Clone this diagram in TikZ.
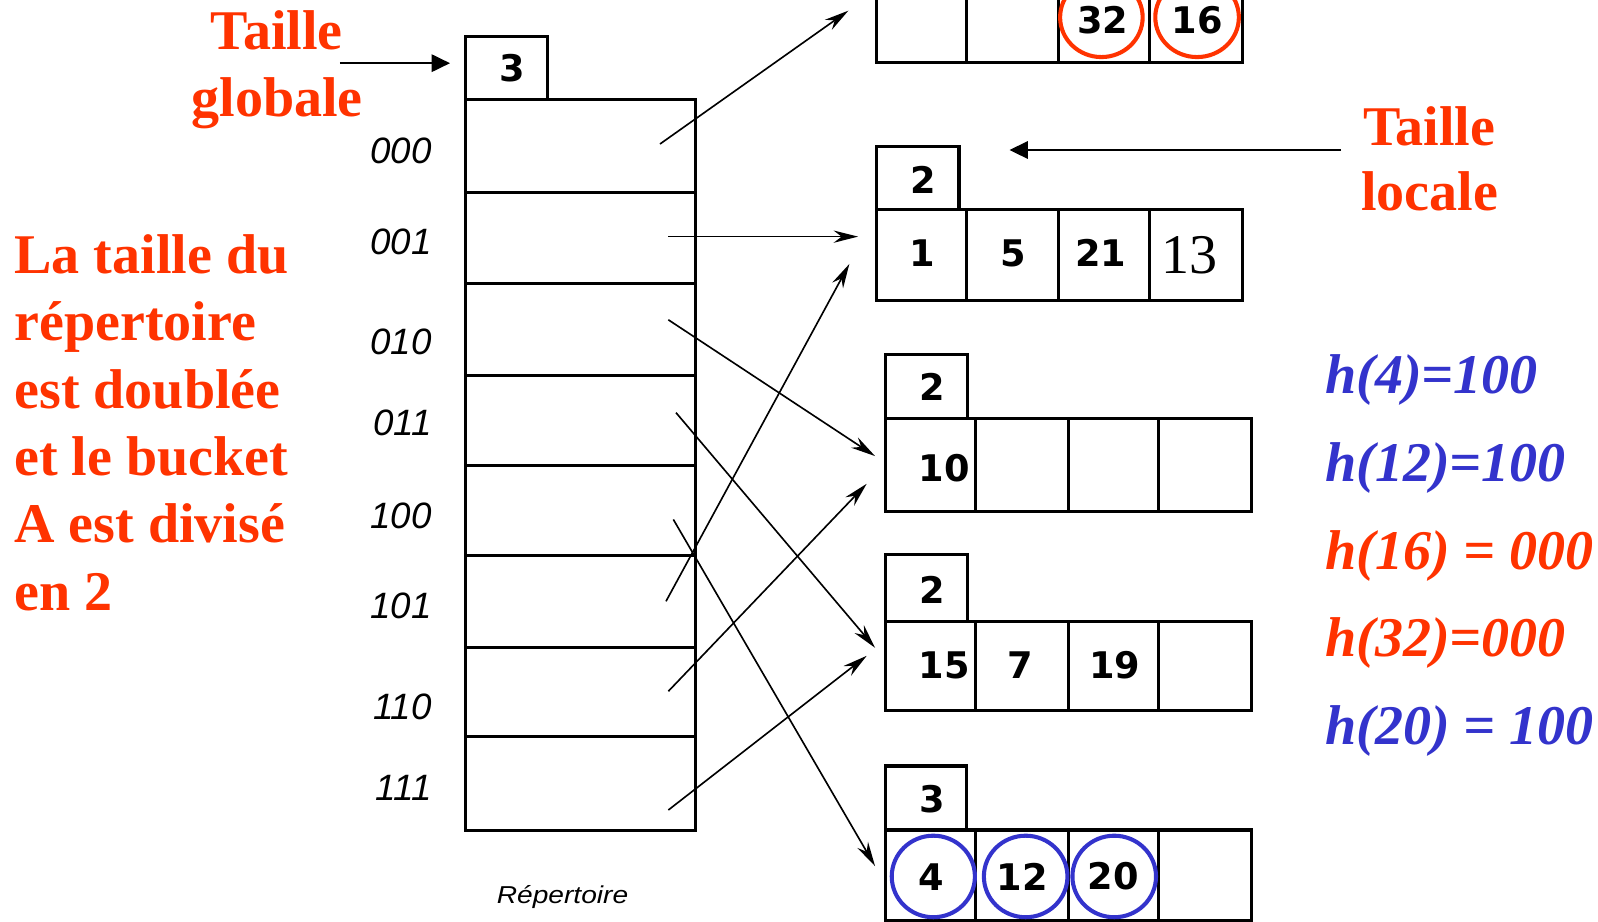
\documentclass[tikz,border=0pt]{standalone}
\usepackage{fontspec}
\setmainfont{Liberation Serif}
\newfontfamily\cellfont{DejaVu Sans}
\newfontfamily\labfont{Liberation Sans}
\usetikzlibrary{fit,arrows.meta,shapes.geometric}
\definecolor{ored}{RGB}{255,51,0}
\definecolor{oblue}{RGB}{51,51,204}
\begin{document}
\begin{tikzpicture}[x=0.5pt,y=-0.5pt,
  box/.style={draw, line width=1.5pt, inner sep=0pt, outer sep=0pt},
  num/.style={font=\cellfont\bfseries\fontsize{18}{20}\selectfont, inner sep=0pt},
  serifnum/.style={font=\fontsize{27.5}{30}\selectfont, inner sep=0pt},
  bin/.style={font=\labfont\itshape\fontsize{18}{20}\selectfont, inner sep=0pt},
  big/.style={font=\bfseries\fontsize{27.5}{33}\selectfont, text=ored, inner sep=0pt},
  hred/.style={font=\bfseries\itshape\fontsize{27.5}{33}\selectfont, text=ored, inner sep=0pt},
  hblue/.style={font=\bfseries\itshape\fontsize{27.5}{33}\selectfont, text=oblue, inner sep=0pt},
  ring/.style={ellipse, draw, line width=2pt, inner sep=0pt},
  ptr/.style={-{Stealth[length=12pt,width=6pt]}, line width=0.8pt},
  lab/.style={-{Triangle[length=9pt,width=8.5pt]}, line width=1pt},
]
\useasboundingbox (0,0) rectangle (1568,904);
\fill[white] (0,0) rectangle (1568,904);

% ---------- directory ----------
\node[box, fit={(457,36)(537,98)}] (g) {};
\node[num] (gt) at (503,67) {3};
\node[box, fit={(457,98)(682,189)}] (r0) {};
\node[box, fit={(457,189)(682,278)}] (r1) {};
\node[box, fit={(457,278)(682,368)}] (r2) {};
\node[box, fit={(457,368)(682,457)}] (r3) {};
\node[box, fit={(457,457)(682,545)}] (r4) {};
\node[box, fit={(457,545)(682,635)}] (r5) {};
\node[box, fit={(457,635)(682,723)}] (r6) {};
\node[box, fit={(457,723)(682,815)}] (r7) {};

\node[bin, anchor=east] (b0) at (424,148) {000};
\node[bin, anchor=east] (b1) at (424,237) {001};
\node[bin, anchor=east] (b2) at (424,335.5) {010};
\node[bin, anchor=east] (b3) at (424,414.5) {011};
\node[bin, anchor=east] (b4) at (424,506.6) {100};
\node[bin, anchor=east] (b5) at (424,594) {101};
\node[bin, anchor=east] (b6) at (424,694) {110};
\node[bin, anchor=east] (b7) at (424,773.5) {111};

\node[inner sep=0pt] (rep) at (552,880) {\scalebox{1.15}[1]{\labfont\itshape\fontsize{12}{13}\selectfont Répertoire}};

% ---------- bucket A (top) ----------
\node[box, fit={(860,-30)(948.6,61.5)}] (a1) {};
\node[box, fit={(948.6,-30)(1039,61.5)}] (a2) {};
\node[box, fit={(1039,-30)(1127.5,61.5)}] (a3) {};
\node[box, fit={(1127.5,-30)(1218.8,61.5)}] (a4) {};
\node[ring, draw=ored, minimum width=40.5pt, minimum height=39pt] (c32) at (1080.7,17) {};
\node[ring, draw=ored, minimum width=41pt, minimum height=39pt] (c16) at (1174.6,17) {};
\node[num] (t32) at (1082,19.6) {32};
\node[num] (t16) at (1174.6,19.6) {16};

% ---------- bucket B ----------
\node[box, fit={(860,144)(941,206)}] (dB) {};
\node[num] (dBt) at (906.4,176.3) {2};
\node[box, fit={(860,206)(948.6,294.4)}] (bb1) {};
\node[box, fit={(948.6,206)(1039,294.4)}] (bb2) {};
\node[box, fit={(1039,206)(1127.5,294.4)}] (bb3) {};
\node[box, fit={(1127.5,206)(1218.8,294.4)}] (bb4) {};
\node[num] (t1) at (904.7,248.6) {1};
\node[num] (t5) at (994,248.6) {5};
\node[num] (t21) at (1080.2,248.6) {21};
\node[serifnum, anchor=base] (t13) at (1167.2,268.2) {13};

% ---------- bucket C ----------
\node[box, fit={(869,348.2)(949.5,411)}] (dC) {};
\node[num] (dCt) at (915,379.7) {2};
\node[box, fit={(869,411)(957.4,501.7)}] (cc1) {};
\node[box, fit={(957.4,411)(1048,501.7)}] (cc2) {};
\node[box, fit={(1048,411)(1136.5,501.7)}] (cc3) {};
\node[box, fit={(1136.5,411)(1227.6,501.7)}] (cc4) {};
\node[num] (t10) at (926.5,459.4) {10};

% ---------- bucket D ----------
\node[box, fit={(869,544.2)(949.5,609.6)}] (dD) {};
\node[num] (dDt) at (915,578.7) {2};
\node[box, fit={(869,609.6)(957.4,697.4)}] (dd1) {};
\node[box, fit={(957.4,609.6)(1048,697.4)}] (dd2) {};
\node[box, fit={(1048,609.6)(1136.5,697.4)}] (dd3) {};
\node[box, fit={(1136.5,609.6)(1227.6,697.4)}] (dd4) {};
\node[num] (t15) at (926.5,653.1) {15};
\node[num] (t7) at (1000.9,653.1) {7};
\node[num] (t19) at (1093.8,653.1) {19};

% ---------- bucket E ----------
\node[box, fit={(869,751.6)(948.6,814.4)}] (dE) {};
\node[num] (dEt) at (915,784.2) {3};
\node[box, fit={(869,814.4)(957.4,902.8)}] (ee1) {};
\node[box, fit={(957.4,814.4)(1048,902.8)}] (ee2) {};
\node[box, fit={(1048,814.4)(1136.5,902.8)}] (ee3) {};
\node[box, fit={(1136.5,814.4)(1227.6,902.8)}] (ee4) {};
\node[ring, draw=oblue, minimum width=40.8pt, minimum height=40pt] (c4) at (915.8,860) {};
\node[ring, draw=oblue, minimum width=41pt, minimum height=40pt] (c12) at (1006.4,860) {};
\node[ring, draw=oblue, minimum width=41pt, minimum height=40pt] (c20) at (1093.3,860) {};
\node[num] (t4) at (914,860.7) {4};
\node[num] (t12) at (1003.3,860) {12};
\node[num] (t20) at (1092.5,860) {20};

% ---------- pointers ----------
\coordinate (s0) at (647.6,141.3); \coordinate (e0) at (832.4,10.5);
\coordinate (s1) at (655.8,232.2); \coordinate (e1) at (842,232.2);
\coordinate (s2) at (655.8,313.8); \coordinate (e2) at (858.6,447.5);
\coordinate (s3) at (663.3,404.9); \coordinate (e3) at (858.6,635.6);
\coordinate (s4) at (660.7,509.7); \coordinate (e4) at (858.6,849.8);
\coordinate (s5) at (653.5,590);   \coordinate (e5) at (833.4,259);
\coordinate (s6) at (655.8,678.3); \coordinate (e6) at (850.4,474.7);
\coordinate (s7) at (655.8,794.8); \coordinate (e7) at (850.4,643.5);
\foreach \i in {0,...,7} { \draw[ptr] (s\i) -- (e\i); }

% ---------- labels ----------
\node[big, anchor=base] (tg1) at (271.5,49) {Taille};
\node[big, anchor=base] (tg2) at (272,114.5) {globale};
\coordinate (tgs) at (333.6,62);
\coordinate (tge) at (441.6,62);
\draw[lab] (tgs) -- (tge);

\node[big, anchor=base] (tl1) at (1402.5,142.5) {Taille};
\node[big, anchor=base] (tl2) at (1402.8,206.7) {locale};
\coordinate (tls) at (1316,147.2);
\coordinate (tle) at (990.5,147.2);
\draw[lab] (tls) -- (tle);

\node[big, anchor=base west] (l1) at (13.7,268.2) {La taille du};
\node[big, anchor=base west] (l2) at (13.7,334.3) {répertoire};
\node[big, anchor=base west] (l3) at (13.7,400.4) {est doublée};
\node[big, anchor=base west] (l4) at (13.7,466.5) {et le bucket};
\node[big, anchor=base west] (l5) at (13.7,532.6) {A est divisé};
\node[big, anchor=base west] (l6) at (13.7,598.7) {en 2};

\node[hblue, anchor=base west] (h1) at (1300,386) {h(4)=100};
\node[hblue, anchor=base west] (h2) at (1300,472.6) {h(12)=100};
\node[hred, anchor=base west] (h3) at (1300,558.7) {h(16) = 000};
\node[hred, anchor=base west] (h4) at (1300,644.4) {h(32)=000};
\node[hblue, anchor=base west] (h5) at (1300,730.4) {h(20) = 100};
\end{tikzpicture}
\end{document}
